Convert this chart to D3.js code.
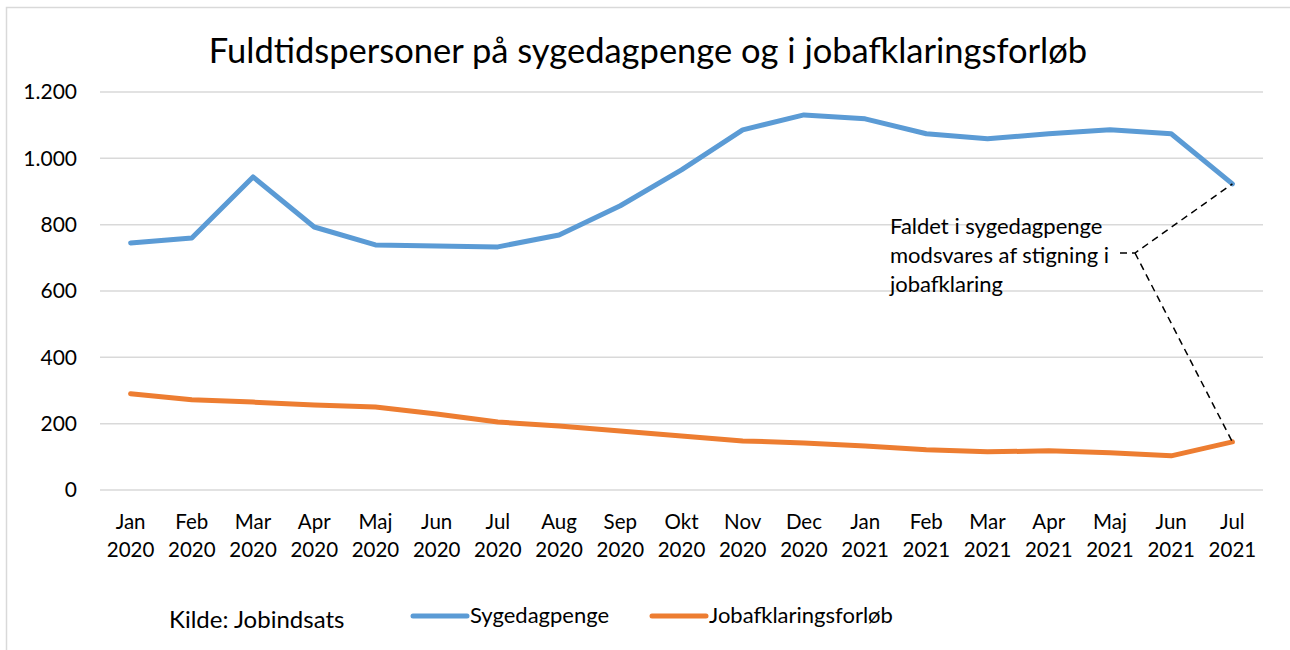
<!DOCTYPE html>
<html>
<head>
<meta charset="utf-8">
<script src="https://cdn.jsdelivr.net/npm/d3@7"></script>
<style>
  body { margin: 0; background: #fff; }
  svg { display: block; font-family: Lato, "Open Sans", sans-serif; }
</style>
</head>
<body>
<div id="chart"></div>
<script>
// Data
const months = ["Jan", "Feb", "Mar", "Apr", "Maj", "Jun", "Jul", "Aug", "Sep", "Okt", "Nov", "Dec",
                "Jan", "Feb", "Mar", "Apr", "Maj", "Jun", "Jul"];
const years = ["2020", "2020", "2020", "2020", "2020", "2020", "2020", "2020", "2020", "2020", "2020", "2020",
               "2021", "2021", "2021", "2021", "2021", "2021", "2021"];
const sygedagpenge = [745, 760, 944, 793, 739, 736, 733, 769, 857, 965, 1086, 1131,
                      1119, 1074, 1059, 1074, 1086, 1074, 923];
const jobafklaring = [290, 272, 265, 256, 250, 229, 205, 193, 178, 163, 148, 142,
                      133, 121, 115, 118, 112, 103, 145];
const yTicks = [0, 200, 400, 600, 800, 1000, 1200];
const seriesNames = ["Sygedagpenge", "Jobafklaringsforløb"];
const seriesColors = ["#5b9bd5", "#ed7d31"];

const W = 1290, H = 650;
const margin = { top: 92, right: 27, bottom: 160, left: 100 };
const width = W - margin.left - margin.right;
const height = H - margin.top - margin.bottom;

const svg = d3.select("#chart").append("svg")
    .attr("width", W)
    .attr("height", H);

// chart frame (only top and left edge visible)
svg.append("rect")
    .attr("x", 6.5).attr("y", 7.5)
    .attr("width", W + 20).attr("height", H + 20)
    .attr("fill", "none")
    .attr("stroke", "#d9d9d9")
    .attr("stroke-width", 1.5);

const g = svg.append("g")
    .attr("transform", `translate(${margin.left},${margin.top})`);

const keys = months.map((m, i) => m + " " + years[i]);

const x = d3.scaleBand()
    .domain(keys)
    .range([0, width]);

const y = d3.scaleLinear()
    .domain([0, 1200])
    .range([height, 0]);

// gridlines
g.selectAll(".grid")
    .data(yTicks)
    .enter().append("line")
    .attr("x1", 0).attr("x2", width)
    .attr("y1", d => y(d)).attr("y2", d => y(d))
    .attr("stroke", "#d9d9d9")
    .attr("stroke-width", 1.5);

// y axis labels
const yAxis = g.append("g")
    .call(d3.axisLeft(y).tickValues(yTicks).tickSize(0).tickPadding(23)
        .tickFormat(d => d3.format(",")(d).replace(/,/g, ".")));
yAxis.select(".domain").remove();
yAxis.selectAll("text")
    .attr("font-family", "Lato, sans-serif")
    .attr("font-size", 21)
    .attr("fill", "#000");

// x axis labels (two lines)
const xAxis = g.append("g")
    .attr("transform", `translate(0,${height})`)
    .call(d3.axisBottom(x).tickSize(0).tickFormat(""));
xAxis.select(".domain").remove();
xAxis.selectAll(".tick").each(function(d, i) {
    const t = d3.select(this).append("text")
        .attr("fill", "#000")
        .attr("font-family", "Lato, sans-serif")
        .attr("font-size", 20.5)
        .attr("text-anchor", "middle");
    t.append("tspan").attr("x", 0).attr("y", 39).text(months[i]);
    t.append("tspan").attr("x", 0).attr("y", 67).text(years[i]);
});

// lines
const line = d3.line()
    .x((d, i) => x(keys[i]) + x.bandwidth() / 2)
    .y(d => y(d));

[sygedagpenge, jobafklaring].forEach((s, k) => {
    g.append("path")
        .datum(s)
        .attr("d", line)
        .attr("fill", "none")
        .attr("stroke", seriesColors[k])
        .attr("stroke-width", 5)
        .attr("stroke-linejoin", "round")
        .attr("stroke-linecap", "round");
});

// annotation
const last = keys.length - 1;
const lx = x(keys[last]) + x.bandwidth() / 2;
const elbow = { x: 1035, y: 161 };
g.append("path")
    .attr("d", `M${elbow.x - 15},${elbow.y} H${elbow.x} L${lx},${y(sygedagpenge[last])}` +
               ` M${elbow.x},${elbow.y} L${lx},${y(jobafklaring[last])}`)
    .attr("fill", "none")
    .attr("stroke", "#000")
    .attr("stroke-width", 1.5)
    .attr("stroke-dasharray", "7,5");

const note = ["Faldet i sygedagpenge", "modsvares af stigning i", "jobafklaring"];
g.append("text")
    .attr("font-family", "Lato, sans-serif")
    .attr("font-size", 22)
    .attr("fill", "#000")
    .selectAll("tspan")
    .data(note)
    .enter().append("tspan")
    .attr("x", 790)
    .attr("y", (d, i) => 142 + i * 29)
    .text(d => d);

// title
svg.append("text")
    .attr("x", 648)
    .attr("y", 63)
    .attr("text-anchor", "middle")
    .attr("font-family", "Lato, sans-serif")
    .attr("font-size", 34.5)
    .attr("fill", "#000")
    .text("Fuldtidspersoner på sygedagpenge og i jobafklaringsforløb");

// source
svg.append("text")
    .attr("x", 169)
    .attr("y", 628)
    .attr("font-family", "Lato, sans-serif")
    .attr("font-size", 24)
    .attr("fill", "#000")
    .text("Kilde: Jobindsats");

// legend
const legendX = [413, 652];
const legend = svg.selectAll(".legend")
    .data(seriesNames)
    .enter().append("g")
    .attr("transform", (d, i) => `translate(${legendX[i]},616)`);
legend.append("line")
    .attr("x1", 0).attr("x2", 54)
    .attr("y1", 0).attr("y2", 0)
    .attr("stroke", (d, i) => seriesColors[i])
    .attr("stroke-width", 5)
    .attr("stroke-linecap", "round");
legend.append("text")
    .attr("x", 57)
    .attr("y", 7)
    .attr("font-family", "Lato, sans-serif")
    .attr("font-size", 22)
    .attr("fill", "#000")
    .text(d => d);
</script>
</body>
</html>
